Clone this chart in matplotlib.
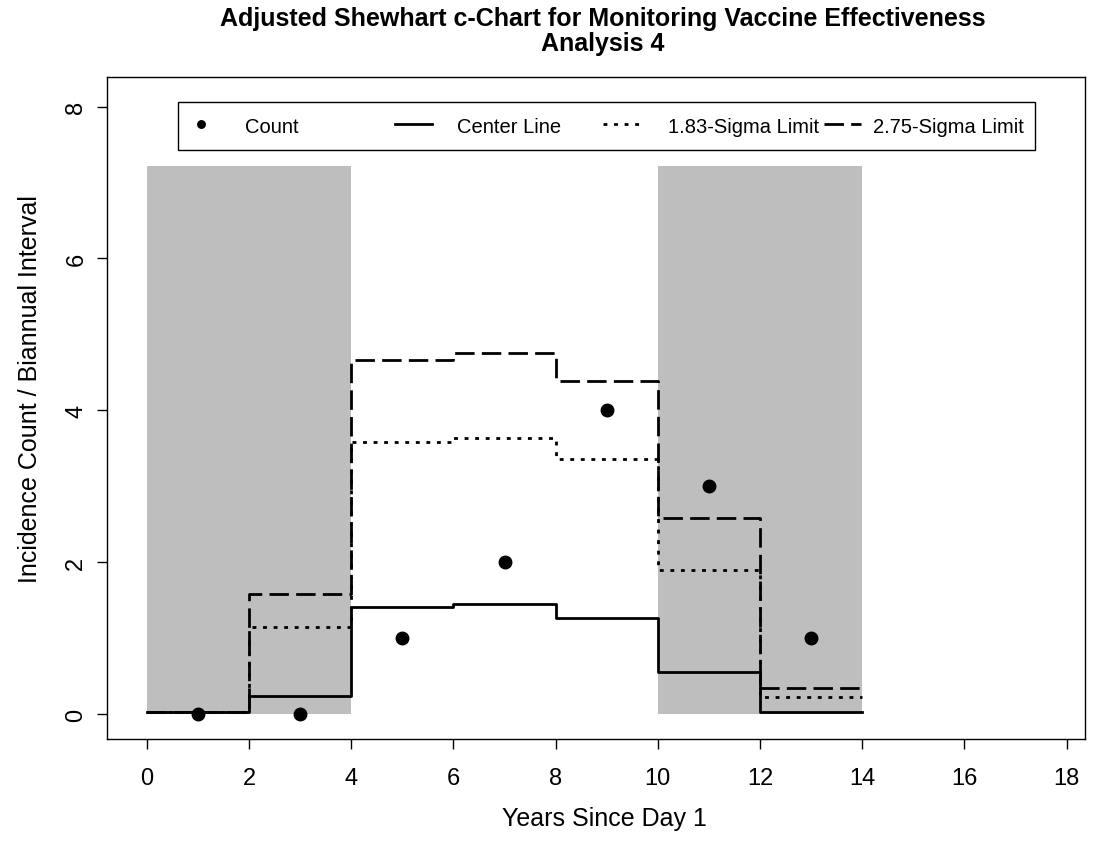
import matplotlib
matplotlib.use("Agg")
import matplotlib.pyplot as plt
from matplotlib.patches import Rectangle
import numpy as np

plt.rcParams['font.family'] = ['Liberation Sans', 'DejaVu Sans']

# step boundaries (years)
edges = [0, 2, 4, 6, 8, 10, 12, 14]
center = [0.02, 0.24, 1.41, 1.45, 1.27, 0.55, 0.02]
sigma183 = [0.02, 1.14, 3.58, 3.64, 3.36, 1.89, 0.22]
sigma275 = [0.02, 1.58, 4.66, 4.75, 4.38, 2.58, 0.34]

count_x = [1, 3, 5, 7, 9, 11, 13]
counts = [0, 0, 1, 2, 4, 3, 1]

shade_spans = [(0, 4), (10, 14)]
shade_top = 7.22

W, H = 1096, 853
AX_L, AX_R, AX_T, AX_B = 107, 1085, 78, 740


def steps(vals):
    return list(vals) + [vals[-1]]


def axx(px):
    return (px - AX_L) / (AX_R - AX_L)


def axy(py):
    return (AX_B - py) / (AX_B - AX_T)


fig = plt.figure(figsize=(W / 100, H / 100), dpi=100)
ax = fig.add_axes([AX_L / W, 1 - AX_B / H, (AX_R - AX_L) / W, (AX_B - AX_T) / H])

for a, b in shade_spans:
    ax.fill_between([a, b], 0, shade_top, color='#bebebe', lw=0, zorder=0)

lw = 2.0
l275, = ax.step(edges, steps(sigma275), where='post', color='black', lw=lw,
                dashes=(7, 2.6), zorder=2)
l183, = ax.step(edges, steps(sigma183), where='post', color='black', lw=lw,
                dashes=(1.4, 2.4), zorder=2)
lc, = ax.step(edges, steps(center), where='post', color='black', lw=lw, zorder=3)
pts, = ax.plot(count_x, counts, 'o', color='black', ms=9, zorder=4)

ax.set_xlim(-0.78, 18.36)
ax.set_ylim(-0.33, 8.39)
ax.set_xticks(np.arange(0, 19, 2))
ax.set_yticks([0, 2, 4, 6, 8])
for lab in ax.get_yticklabels():
    lab.set_rotation(90)
    lab.set_va('center')
ax.tick_params(labelsize=17, length=7.2, width=1, direction='out')
ax.tick_params(axis='x', pad=13)
ax.tick_params(axis='y', pad=7)
for s in ax.spines.values():
    s.set_linewidth(1)

ax.set_xlabel('Years Since Day 1', fontsize=18)
ax.xaxis.set_label_coords(axx(604), axy(807))
ax.set_ylabel('Incidence Count / Biannual Interval', fontsize=18)
ax.yaxis.set_label_coords(axx(42), 0.53)

fig.text(603 / W, 1 - 7 / H,
         'Adjusted Shewhart c-Chart for Monitoring Vaccine Effectiveness\nAnalysis 4',
         ha='center', va='top', fontsize=18, fontweight='bold', linespacing=1.05)

# legend: one framed box, four evenly placed entries (R style)
ax.add_patch(Rectangle((axx(178), axy(151)), axx(1035) - axx(178), axy(103) - axy(151),
                       transform=ax.transAxes, fill=False, ec='black', lw=1,
                       zorder=5, clip_on=False))
leg_handles = [pts, lc, l183, l275]
leg_labels = ['Count', 'Center Line', '1.83-Sigma Limit', '2.75-Sigma Limit']
leg_start = [182, 395, 603, 824]
leg_pad = [1.3, 1.25, 1.4, 0.6]
for hnd, lab, x0, pad in zip(leg_handles, leg_labels, leg_start, leg_pad):
    lg = ax.legend([hnd], [lab], loc='center left', bbox_to_anchor=(axx(x0), axy(127)),
                   frameon=False, fontsize=14.5, handlelength=1.84, handletextpad=pad,
                   borderpad=0, borderaxespad=0, markerscale=0.6)
    ax.add_artist(lg)
ax.legend_ = None  # the last one is already added as an artist

fig.savefig('out.png', dpi=100)
